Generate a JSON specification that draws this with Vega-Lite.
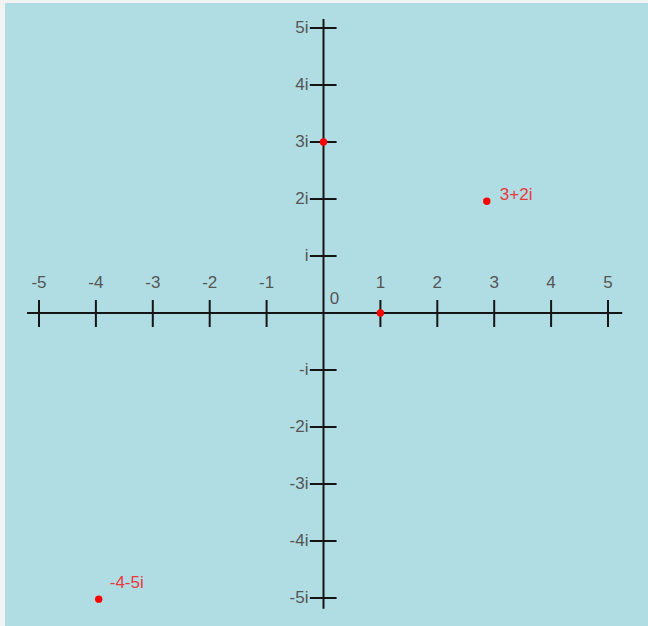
{
  "$schema": "https://vega.github.io/schema/vega-lite/v6.json",
  "width": 643,
  "height": 623,
  "autosize": "none",
  "padding": {"left": 5, "top": 3, "right": 0, "bottom": 0},
  "background": "#f2f4f4",
  "config": {"view": {"fill": "#b0dde3", "stroke": null}},
  "datasets": {
    "axes": [
      {"x1": -5.21, "x2": 5.25, "y1": 0, "y2": 0},
      {"x1": 0, "x2": 0, "y1": -5.19, "y2": 5.16}
    ],
    "xticks": [
      {"v": -5, "label": "-5"}, {"v": -4, "label": "-4"}, {"v": -3, "label": "-3"},
      {"v": -2, "label": "-2"}, {"v": -1, "label": "-1"}, {"v": 1, "label": "1"},
      {"v": 2, "label": "2"}, {"v": 3, "label": "3"}, {"v": 4, "label": "4"}, {"v": 5, "label": "5"}
    ],
    "yticks": [
      {"v": 5, "label": "5i"}, {"v": 4, "label": "4i"}, {"v": 3, "label": "3i"},
      {"v": 2, "label": "2i"}, {"v": 1, "label": "i"}, {"v": -1, "label": "-i"},
      {"v": -2, "label": "-2i"}, {"v": -3, "label": "-3i"}, {"v": -4, "label": "-4i"}, {"v": -5, "label": "-5i"}
    ],
    "points": [
      {"re": 0, "im": 3, "label": ""},
      {"re": 1, "im": 0, "label": ""},
      {"re": 2.87, "im": 1.96, "label": "3+2i"},
      {"re": -3.95, "im": -5.02, "label": "-4-5i"}
    ],
    "origin": [{"label": "0"}]
  },
  "layer": [
    {
      "data": {"name": "axes"},
      "mark": {"type": "rule", "color": "#151515", "strokeWidth": 2},
      "encoding": {
        "x": {"field": "x1", "type": "quantitative", "scale": {"domain": [-5.5975, 5.703], "nice": false, "zero": false}, "axis": null},
        "x2": {"field": "x2"},
        "y": {"field": "y1", "type": "quantitative", "scale": {"domain": [-5.4912, 5.4386], "nice": false, "zero": false}, "axis": null},
        "y2": {"field": "y2"}
      }
    },
    {
      "data": {"name": "xticks"},
      "mark": {"type": "rule", "color": "#151515", "strokeWidth": 2},
      "encoding": {
        "x": {"field": "v", "type": "quantitative"},
        "y": {"datum": -0.246, "type": "quantitative"},
        "y2": {"datum": 0.228}
      }
    },
    {
      "data": {"name": "yticks"},
      "mark": {"type": "rule", "color": "#151515", "strokeWidth": 2},
      "encoding": {
        "y": {"field": "v", "type": "quantitative"},
        "x": {"datum": -0.24, "type": "quantitative"},
        "x2": {"datum": 0.23}
      }
    },
    {
      "data": {"name": "xticks"},
      "mark": {"type": "text", "font": "Liberation Sans", "fontSize": 17, "color": "#555555", "align": "center", "baseline": "middle", "dy": -30},
      "encoding": {
        "x": {"field": "v", "type": "quantitative"},
        "y": {"datum": 0, "type": "quantitative"},
        "text": {"field": "label"}
      }
    },
    {
      "data": {"name": "yticks"},
      "mark": {"type": "text", "font": "Liberation Sans", "fontSize": 17, "color": "#555555", "align": "right", "baseline": "middle", "dx": -15},
      "encoding": {
        "y": {"field": "v", "type": "quantitative"},
        "x": {"datum": 0, "type": "quantitative"},
        "text": {"field": "label"}
      }
    },
    {
      "data": {"name": "origin"},
      "mark": {"type": "text", "font": "Liberation Sans", "fontSize": 17, "color": "#555555", "align": "center", "baseline": "middle", "dx": 11, "dy": -14},
      "encoding": {
        "x": {"datum": 0, "type": "quantitative"},
        "y": {"datum": 0, "type": "quantitative"},
        "text": {"field": "label"}
      }
    },
    {
      "data": {"name": "points"},
      "mark": {"type": "circle", "color": "#ff0000", "opacity": 1, "size": 55},
      "encoding": {
        "x": {"field": "re", "type": "quantitative"},
        "y": {"field": "im", "type": "quantitative"}
      }
    },
    {
      "data": {"name": "points"},
      "transform": [{"filter": "datum.label == '3+2i'"}],
      "mark": {"type": "text", "font": "Liberation Sans", "fontSize": 17, "color": "#e8383d", "align": "left", "baseline": "middle", "dx": 13, "dy": -6},
      "encoding": {
        "x": {"field": "re", "type": "quantitative"},
        "y": {"field": "im", "type": "quantitative"},
        "text": {"field": "label"}
      }
    },
    {
      "data": {"name": "points"},
      "transform": [{"filter": "datum.label == '-4-5i'"}],
      "mark": {"type": "text", "font": "Liberation Sans", "fontSize": 17, "color": "#e8383d", "align": "left", "baseline": "middle", "dx": 11, "dy": -16},
      "encoding": {
        "x": {"field": "re", "type": "quantitative"},
        "y": {"field": "im", "type": "quantitative"},
        "text": {"field": "label"}
      }
    }
  ]
}
